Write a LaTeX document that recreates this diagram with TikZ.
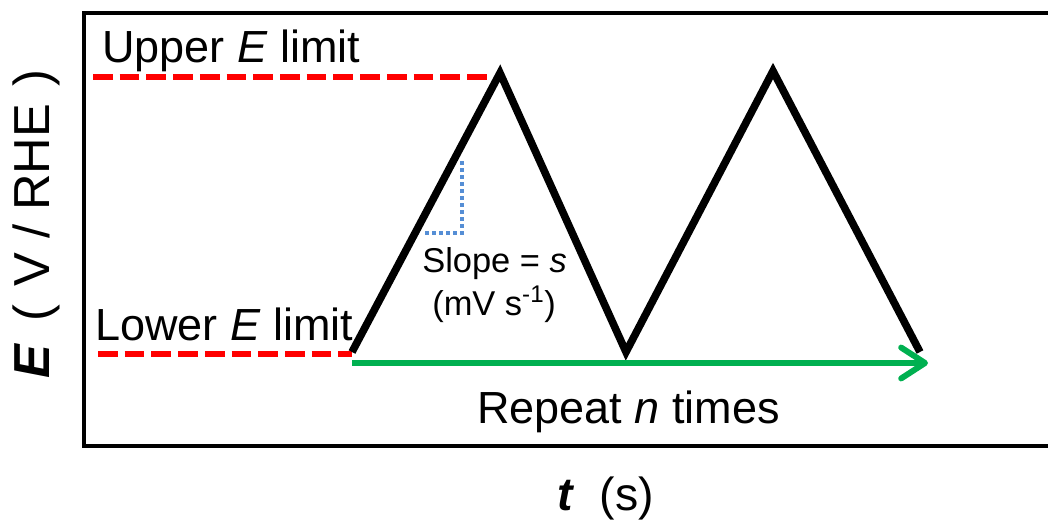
\documentclass[tikz,border=0pt]{standalone}
\usepackage{fontspec}
\setmainfont{Liberation Sans}
\usetikzlibrary{arrows.meta}
\definecolor{limitred}{RGB}{255,0,0}
\definecolor{repeatgreen}{RGB}{0,176,80}
\definecolor{slopeblue}{RGB}{85,142,213}
\tikzset{
  limitline/.style={draw=limitred, line width=4.4pt, dash pattern=on 14pt off 5pt},
  wave/.style={line width=5.4pt, line join=miter},
  lbl/.style={inner sep=0pt, font=\fontsize{32}{34}\selectfont},
  small/.style={inner sep=0pt, font=\fontsize{24.5}{26}\selectfont}
}
\begin{document}
\begin{tikzpicture}[x=0.025cm, y=-0.025cm]
        \useasboundingbox (0,0) rectangle (1048,521);
        \draw[line width=2.8pt] (1060,13) -- (84,13) -- (84,446) -- (1060,446);
        \coordinate (start) at (352,352);
        \coordinate (peakA) at (500,73);
        \coordinate (valley) at (626,352);
        \coordinate (peakB) at (773,71);
        \coordinate (finish) at (920,352);
        \coordinate (upperL) at (93,77);
        \coordinate (upperR) at (492,77);
        \coordinate (lowerL) at (98,354);
        \coordinate (lowerR) at (352,354);
        \coordinate (repL) at (352,363);
        \coordinate (repR) at (928,363);
        \coordinate (slopeT) at (462,161);
        \coordinate (slopeC) at (462,233);
        \coordinate (slopeL) at (424,233);
        \path[limitline] (upperL) -- (upperR);
        \path[limitline] (lowerL) -- (lowerR);
        \draw[wave] (start) -- (peakA) -- (valley) -- (peakB) -- (finish);
        \draw[slopeblue, line width=2.6pt, dash pattern=on 2.6pt off 2.4pt] (slopeT) -- (slopeC) -- (slopeL);
        \draw[repeatgreen, line width=4.2pt, -{Straight Barb[length=17pt, width=22pt, line cap=round, line join=round]}] (repL) -- (repR);
        \node[lbl, anchor=base west] (upper) at (102,62) {Upper \textit{E} limit};
        \node[lbl, anchor=base west] (lower) at (95,340) {Lower \textit{E} limit};
        \node[small, anchor=base west] (slope) at (422,272) {Slope = \textit{s}};
        \node[small, anchor=base west] (unit) at (432,315) {(mV s\textsuperscript{-1})};
        \node[lbl, anchor=base west] (repeat) at (477,423) {Repeat \textit{n} times};
        \node[lbl, anchor=base west, font=\fontsize{33}{35}\selectfont] (taxis) at (557,510) {\textbf{\textit{t}}\hspace{0.55em}(s)};
        \node[lbl, anchor=base, rotate=90, font=\fontsize{36}{38}\selectfont] (eaxis) at (50,224) {\textbf{\textit{E}}\hspace{0.45em}(\hspace{0.35em}V / RHE\hspace{0.35em})};
    \end{tikzpicture}
\end{document}
